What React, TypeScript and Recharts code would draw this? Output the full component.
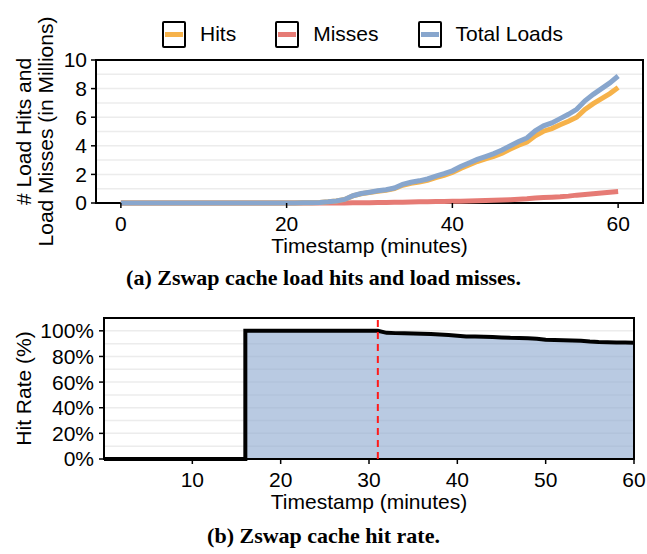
import React from 'react';
import {
  LineChart,
  Line,
  AreaChart,
  Area,
  XAxis,
  YAxis,
  CartesianGrid,
  Legend,
  ReferenceArea,
  ReferenceLine,
  Label,
} from 'recharts';

// ---- (a) load hits / misses, values in millions, one point per minute
const minutes = [
  0, 1, 2, 3, 4, 5, 6, 7, 8, 9, 10, 11, 12, 13, 14, 15, 16, 17, 18, 19, 20,
  21, 22, 23, 24, 25, 26, 27, 28, 29, 30, 31, 32, 33, 34, 35, 36, 37, 38, 39, 40,
  41, 42, 43, 44, 45, 46, 47, 48, 49, 50, 51, 52, 53, 54, 55, 56, 57, 58, 59, 60,
];
const hits = [
  0, 0, 0, 0, 0, 0, 0, 0, 0, 0, 0, 0, 0, 0, 0, 0, 0, 0, 0, 0, 0,
  0, 0.01, 0.02, 0.04, 0.08, 0.14, 0.25, 0.5, 0.65, 0.73, 0.82, 0.89, 1.0, 1.24, 1.38, 1.47, 1.59, 1.78, 1.94, 2.13,
  2.42, 2.66, 2.9, 3.08, 3.26, 3.49, 3.77, 4.04, 4.26, 4.7, 5.02, 5.2, 5.47, 5.72, 6.0, 6.55, 6.95, 7.3, 7.65, 8.08,
];
const misses = [
  0, 0, 0, 0, 0, 0, 0, 0, 0, 0, 0, 0, 0, 0, 0, 0, 0, 0, 0, 0, 0,
  0, 0, 0, 0, 0, 0, 0, 0.01, 0.01, 0.02, 0.03, 0.04, 0.05, 0.06, 0.07, 0.08, 0.09, 0.1, 0.11, 0.12,
  0.13, 0.14, 0.15, 0.17, 0.19, 0.21, 0.23, 0.26, 0.29, 0.35, 0.38, 0.4, 0.43, 0.48, 0.55, 0.6, 0.65, 0.7, 0.75, 0.8,
];
const totalLoads = [
  0, 0, 0, 0, 0, 0, 0, 0, 0, 0, 0, 0, 0, 0, 0, 0, 0, 0, 0, 0, 0,
  0, 0.01, 0.02, 0.04, 0.08, 0.14, 0.25, 0.51, 0.66, 0.75, 0.85, 0.93, 1.05, 1.3, 1.45, 1.55, 1.68, 1.88, 2.05, 2.25,
  2.55, 2.8, 3.05, 3.25, 3.45, 3.7, 4.0, 4.3, 4.55, 5.05, 5.4, 5.6, 5.9, 6.2, 6.55, 7.15, 7.6, 8.0, 8.4, 8.88,
];
const loadXTicks = [0, 20, 40, 60];
const loadYTicks = [0, 2, 4, 6, 8, 10];
const loadGridValues = [1, 2, 3, 4, 5, 6, 7, 8, 9];

const loadSeries = [
  { key: 'misses', name: 'Misses', color: '#e67b75' },
  { key: 'hits', name: 'Hits', color: '#f6b24a' },
  { key: 'total', name: 'Total Loads', color: '#88a6cd' },
];
const legendOrder = ['hits', 'misses', 'total'];

// ---- (b) hit rate in percent
const rateTimes = [
  0, 16, 16, 20, 25, 31, 32, 33, 34, 35, 36, 37, 38, 39, 40, 41, 42, 43, 44, 45,
  46, 47, 48, 49, 50, 51, 52, 53, 54, 55, 56, 57, 58, 59, 60,
];
const hitRates = [
  0, 0, 100, 100, 100, 100, 98.4, 98.2, 98.1, 97.9, 97.7, 97.5, 97.2, 96.8, 96.2, 95.6, 95.5, 95.3, 95.1, 94.8,
  94.5, 94.4, 94.2, 93.8, 93.0, 92.8, 92.7, 92.5, 92.2, 91.6, 91.2, 91.0, 90.9, 90.8, 90.6,
];
const rateXTicks = [10, 20, 30, 40, 50, 60];
const rateYTicks = [0, 20, 40, 60, 80, 100];
const rateGridValues = [10, 20, 30, 40, 50, 60, 70, 80, 90, 100];
const markerMinute = 31;

const loadData = minutes.map((m, i) => ({
  t: m,
  hits: hits[i],
  misses: misses[i],
  total: totalLoads[i],
}));
const rateData = rateTimes.map((t, i) => ({ t, rate: hitRates[i] }));

const FONT = '"Liberation Sans", Arial, Helvetica, sans-serif';
const tickStyle = { fill: '#000', fontSize: 21, fontFamily: FONT };
const tickLine = { stroke: '#000', strokeWidth: 1.5 };

const LegendBox = () => (
  <div
    style={{
      display: 'flex',
      alignItems: 'center',
      height: 46,
      paddingLeft: 162,
      paddingBottom: 6,
      boxSizing: 'border-box',
      fontFamily: FONT,
      fontSize: 21,
      color: '#000',
    }}
  >
    {legendOrder.map((k) => {
      const s = loadSeries.find((x) => x.key === k)!;
      return (
        <div key={s.key} style={{ display: 'flex', alignItems: 'center', marginRight: 39 }}>
          <div
            style={{
              width: 24,
              height: 27,
              border: '2px solid #000',
              borderRadius: 2,
              boxSizing: 'border-box',
              display: 'flex',
              alignItems: 'center',
              padding: '0 1px',
            }}
          >
            <div style={{ width: '100%', height: 5, background: s.color }} />
          </div>
          <span style={{ marginLeft: 14 }}>{s.name}</span>
        </div>
      );
    })}
  </div>
);

const TwoLineYLabel = (props: any) => {
  const vb = props.viewBox || { y: 60, height: 143 };
  const cy = vb.y + vb.height / 2;
  const lines = ['# Load Hits and', 'Load Misses (in Millions)'];
  const xs = [23, 45];
  return (
    <g>
      {lines.map((txt, i) => (
        <text
          key={txt}
          x={xs[i]}
          y={cy}
          transform={`rotate(-90, ${xs[i]}, ${cy})`}
          textAnchor="middle"
          dominantBaseline="central"
          fill="#000"
          fontSize={21}
          fontFamily={FONT}
        >
          {txt}
        </text>
      ))}
    </g>
  );
};

const RateYLabel = (props: any) => {
  const vb = props.viewBox || { y: 318, height: 141 };
  const cy = vb.y + vb.height / 2;
  return (
    <text
      x={23}
      y={cy}
      transform={`rotate(-90, 23, ${cy})`}
      textAnchor="middle"
      dominantBaseline="central"
      fill="#000"
      fontSize={21}
      fontFamily={FONT}
    >
      Hit Rate (%)
    </text>
  );
};

const captionStyle: React.CSSProperties = {
  position: 'absolute',
  left: 0,
  width: 647,
  textAlign: 'center',
  fontFamily: '"Liberation Serif", "Times New Roman", serif',
  fontWeight: 'bold',
  fontSize: 22,
  color: '#000',
};

export default function App() {
  return (
    <div style={{ position: 'absolute', left: 0, top: 0, width: 647, height: 554, background: '#fff' }}>
      <div style={{ position: 'absolute', left: 0, top: 0 }}>
        <LineChart width={647} height={260} data={loadData} margin={{ top: 14, right: 4, bottom: 0, left: 0 }}>
          <Legend
            verticalAlign="top"
            content={<LegendBox />}
            wrapperStyle={{ left: 0, top: 14, width: 647, height: 46 }}
          />
          <CartesianGrid
            vertical={false}
            horizontalValues={loadGridValues}
            stroke="#ececec"
            strokeWidth={1.5}
          />
          <XAxis
            dataKey="t"
            type="number"
            domain={[-3, 63]}
            ticks={loadXTicks}
            interval={0}
            height={57}
            axisLine={false}
            tickLine={tickLine}
            tickSize={5}
            tickMargin={8}
            tick={tickStyle}
          >
            <Label
              value="Timestamp (minutes)"
              position="insideBottom"
              offset={7}
              fill="#000"
              fontSize={21}
              fontFamily={FONT}
            />
          </XAxis>
          <YAxis
            type="number"
            domain={[0, 10]}
            ticks={loadYTicks}
            interval={0}
            width={96}
            axisLine={false}
            tickLine={tickLine}
            tickSize={5}
            tickMargin={4}
            tick={tickStyle}
            label={<TwoLineYLabel />}
          />
          {loadSeries.map((s) => (
            <Line
              key={s.key}
              type="linear"
              dataKey={s.key}
              name={s.name}
              stroke={s.color}
              strokeWidth={5}
              dot={false}
              isAnimationActive={false}
            />
          ))}
          <ReferenceArea
            x1={-3}
            x2={63}
            y1={0}
            y2={10}
            fill="none"
            stroke="#000"
            strokeWidth={2}
            ifOverflow="visible"
          />
        </LineChart>
      </div>
      <div style={{ ...captionStyle, top: 265 }}>(a) Zswap cache load hits and load misses.</div>

      <div style={{ position: 'absolute', left: 0, top: 280 }}>
        <AreaChart width={647} height={236} data={rateData} margin={{ top: 38, right: 13, bottom: 0, left: 0 }}>
          <CartesianGrid
            vertical={false}
            horizontalValues={rateGridValues}
            stroke="#ececec"
            strokeWidth={1.5}
          />
          <XAxis
            dataKey="t"
            type="number"
            domain={[0, 60]}
            ticks={rateXTicks}
            interval={0}
            height={57}
            axisLine={false}
            tickLine={tickLine}
            tickSize={5}
            tickMargin={8}
            tick={tickStyle}
          >
            <Label
              value="Timestamp (minutes)"
              position="insideBottom"
              offset={7}
              fill="#000"
              fontSize={21}
              fontFamily={FONT}
            />
          </XAxis>
          <YAxis
            type="number"
            domain={[0, 110]}
            ticks={rateYTicks}
            interval={0}
            tickFormatter={(v: number) => `${v}%`}
            width={104}
            axisLine={false}
            tickLine={tickLine}
            tickSize={5}
            tickMargin={5}
            tick={tickStyle}
            label={<RateYLabel />}
          />
          <Area
            type="linear"
            dataKey="rate"
            stroke="#000"
            strokeWidth={4}
            fill="#8ea9d1"
            fillOpacity={0.62}
            isAnimationActive={false}
          />
          <ReferenceLine x={markerMinute} stroke="#ff1a1a" strokeWidth={2} strokeDasharray="7 5" />
          <ReferenceArea
            x1={0}
            x2={60}
            y1={0}
            y2={110}
            fill="none"
            stroke="#000"
            strokeWidth={2}
            ifOverflow="visible"
          />
        </AreaChart>
      </div>
      <div style={{ ...captionStyle, top: 523 }}>(b) Zswap cache hit rate.</div>
    </div>
  );
}
